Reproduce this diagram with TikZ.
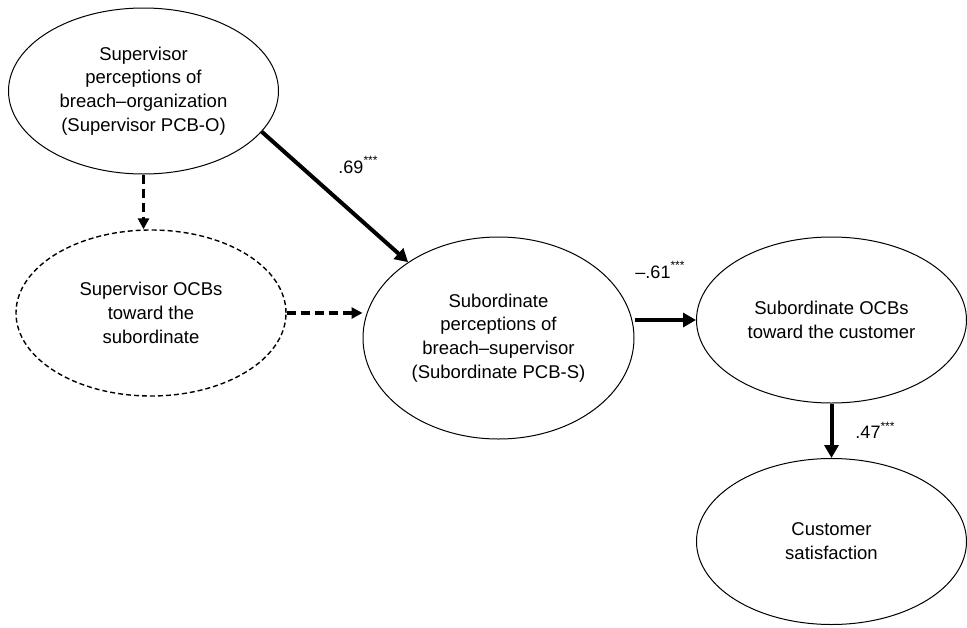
\documentclass[tikz,border=0pt]{standalone}
\usepackage{fontspec}
\setmainfont{Liberation Sans}
\usetikzlibrary{shapes.geometric,arrows.meta}
\begin{document}
\begin{tikzpicture}[x=1pt,y=-1pt,
  latent/.style={ellipse,draw,line width=1pt,inner sep=0pt,align=center,
    font=\fontsize{18.5}{23.8}\selectfont,minimum width=270pt,minimum height=166pt},
  dashedlatent/.style={latent,dash pattern=on 5pt off 3pt,line width=1.4pt},
  strong/.style={line width=4pt,-{Triangle[length=13pt,width=14pt]}},
  weak/.style={line width=3.2pt,dash pattern=on 9pt off 5pt,-{Triangle[length=11pt,width=11pt]}},
  coef/.style={font=\fontsize{18}{22}\selectfont,inner sep=0pt},
  stars/.style={font=\fontsize{13}{15}\selectfont}]
\useasboundingbox (0,0) rectangle (967,627);
\node[latent] (e1) at (143.5,91) {Supervisor\\perceptions of\\breach–organization\\(Supervisor PCB-O)};
\node[dashedlatent] (e2) at (151,313) {Supervisor OCBs\\toward the\\subordinate};
\node[latent,minimum height=202pt,minimum width=271pt] (e3) at (498.5,338) {Subordinate\\perceptions of\\breach–supervisor\\(Subordinate PCB-S)};
\node[latent] (e4) at (831.5,320) {Subordinate OCBs\\toward the customer};
\node[latent] (e5) at (831.5,541.5) {Customer\\satisfaction};
\draw[strong] (e1.-19.4) -- (e3.140);
\draw[weak] (e1.south) -- (e1.south |- e2.north);
\draw[weak] (e2.east) -- (e2.east -| e3.west);
\draw[strong] (e3.east |- e4.west) -- (e4.west);
\draw[strong] (e4.south) -- (e5.north);
\node[coef] (c1) at (358,165) {.69\raisebox{0.45em}{\fontsize{12}{14}\selectfont***}};
\node[coef] (c2) at (660,270) {–.61\raisebox{0.45em}{\fontsize{12}{14}\selectfont***}};
\node[coef] (c3) at (875,430) {.47\raisebox{0.45em}{\fontsize{12}{14}\selectfont***}};
\end{tikzpicture}
\end{document}
